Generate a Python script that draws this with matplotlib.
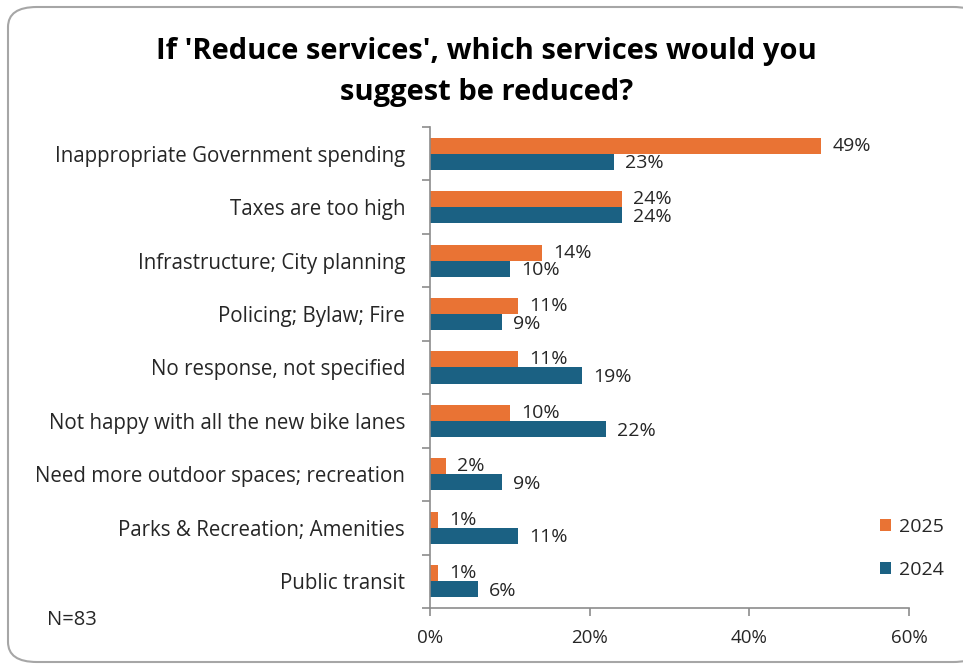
import matplotlib
matplotlib.use("Agg")
import matplotlib.pyplot as plt
from matplotlib.patches import FancyBboxPatch
from matplotlib.ticker import FixedLocator, PercentFormatter
import numpy as np

categories = [
    "Inappropriate Government spending",
    "Taxes are too high",
    "Infrastructure; City planning",
    "Policing; Bylaw; Fire",
    "No response, not specified",
    "Not happy with all the new bike lanes",
    "Need more outdoor spaces; recreation",
    "Parks & Recreation; Amenities",
    "Public transit",
]
values_2025 = [49, 24, 14, 11, 11, 10, 2, 1, 1]
values_2024 = [23, 24, 10, 9, 19, 22, 9, 11, 6]
series_labels = ["2025", "2024"]
title = "If 'Reduce services', which services would you\nsuggest be reduced?"
note = "N=83"

ORANGE = "#E97334"
BLUE = "#1B6183"
GREY = "#8C8C8C"
TEXT = "#262626"

plt.rcParams["font.family"] = ["Open Sans", "DejaVu Sans"]

fig = plt.figure(figsize=(9.63, 6.69), dpi=100)

# rounded frame around the whole chart
frame = FancyBboxPatch((8 / 963, 7 / 669), 1.02 - 8 / 963, 1 - 14 / 669,
                       boxstyle="round,pad=0,rounding_size=0.03",
                       transform=fig.transFigure, facecolor="white",
                       edgecolor="#A6A6A6", linewidth=1.5, zorder=-10)
fig.patches.append(frame)

ax = fig.add_axes([430 / 963, 1 - 608 / 669, 479 / 963, 481 / 669])
ax.set_facecolor("none")
ax.set_zorder(5)

n = len(categories)
y = np.arange(n)
h = 0.3
ax.barh(y - h / 2, values_2025, height=h, color=ORANGE, label=series_labels[0])
ax.barh(y + h / 2, values_2024, height=h, color=BLUE, label=series_labels[1])

for yi, v in zip(y, values_2025):
    ax.text(v + 1.4, yi - h / 2, f"{v}%", va="center", ha="left",
            fontsize=14, color=TEXT)
for yi, v in zip(y, values_2024):
    ax.text(v + 1.4, yi + h / 2 + 0.03, f"{v}%", va="center", ha="left",
            fontsize=14, color=TEXT)

ax.set_xlim(0, 60)
ax.set_ylim(n - 0.5, -0.5)
ax.xaxis.set_major_locator(FixedLocator([0, 20, 40, 60]))
ax.xaxis.set_major_formatter(PercentFormatter(decimals=0))
ax.tick_params(axis="x", direction="out", length=6, color=GREY, width=1.2,
               labelsize=13.5, labelcolor=TEXT, pad=9)

# category labels as minor ticks, separator ticks as major ticks
ax.yaxis.set_major_locator(FixedLocator(np.arange(-0.5, n, 1.0)))
ax.yaxis.set_major_formatter(plt.NullFormatter())
ax.yaxis.set_minor_locator(FixedLocator(y))
ax.set_yticklabels(categories, minor=True)
ax.tick_params(axis="y", which="major", direction="out", length=6,
               color=GREY, width=1.2)
ax.tick_params(axis="y", which="minor", length=0, labelsize=14.8,
               labelcolor=TEXT, pad=18)

for side in ("top", "right"):
    ax.spines[side].set_visible(False)
for side in ("left", "bottom"):
    ax.spines[side].set_color(GREY)
    ax.spines[side].set_linewidth(1.2)

ax.legend(loc="upper left", bbox_to_anchor=(870 / 963, 1 - 508 / 669),
          bbox_transform=fig.transFigure, frameon=False, fontsize=14,
          handlelength=0.6, handleheight=0.6, handletextpad=0.4,
          labelspacing=1.3, labelcolor=TEXT, borderpad=0)

fig.text(0.505, 1 - 72 / 669, title, ha="center", va="center",
         fontsize=21, fontweight="bold", color="black", linespacing=1.55)
fig.text(47 / 963, 1 - 620 / 669, note, ha="left", va="center",
         fontsize=14.5, color=TEXT)

fig.savefig("out.png", dpi=100)
